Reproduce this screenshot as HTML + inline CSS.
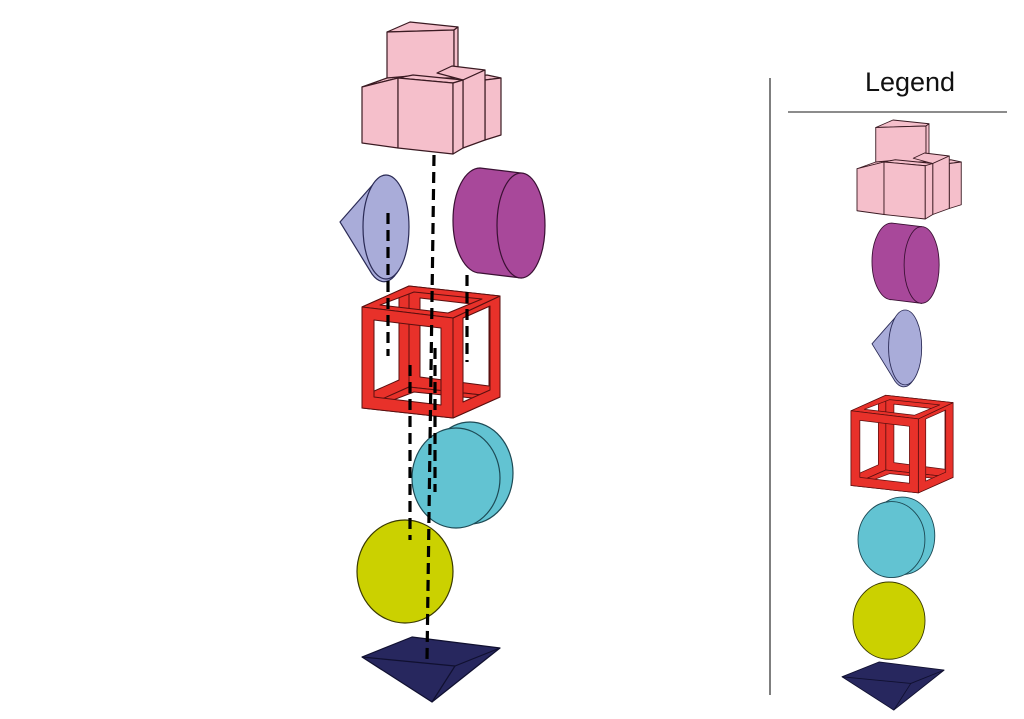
<!DOCTYPE html>
<html><head><meta charset="utf-8"><style>
html,body{margin:0;padding:0;background:#fff;}
svg{display:block;}
</style></head><body>
<svg width="1024" height="719" viewBox="0 0 1024 719" xmlns="http://www.w3.org/2000/svg">
<defs>
<g id="pink" fill="#f5bfcb" stroke="#3a1a22" stroke-width="1.2" stroke-linejoin="round">
  <polygon points="387,32 410,22 458,27 454,30"/>
  <polygon points="387,32 454,30 454,78 387,78"/>
  <polygon points="454,30 458,27 458,74 454,78"/>
  <polygon points="472,77 487,75 501,78 485,80"/>
  <polygon points="485,80 501,78 501,135 485,140"/>
  <polygon points="437,73 452,66 485,70 463,80"/>
  <polygon points="463,80 485,70 485,140 463,148"/>
  <polygon points="362,87 387,78 410,76 398,78"/>
  <polygon points="362,87 398,78 398,148 362,143"/>
  <polygon points="398,78 413,75 463,80 453,83"/>
  <polygon points="398,78 453,83 453,154 398,148"/>
  <polygon points="453,83 463,80 463,148 453,154"/>
</g>
<g id="purple" fill="#a8489a" stroke="#3a1033" stroke-width="1.2">
  <path d="M480,168 L521,173 L521,278 L480,273 A27,52.5 0 0 1 480,168 Z"/>
  <ellipse cx="521" cy="225.5" rx="24" ry="52.5"/>
</g>
<g id="cone" fill="#a9acd9" stroke="#2a2a55" stroke-width="1.2">
  <path d="M340,222 L376,181 A23,52 0 1 1 372,274 Z"/>
  <ellipse cx="386" cy="227" rx="23" ry="52"/>
</g>
<g id="cube" fill="#e8312a" stroke="#5a0f0f" stroke-width="1" fill-rule="evenodd" stroke-linejoin="round">
  <path d="M409,286 L500,296 L500,397 L409,387 Z M420,298 L489,306 L489,386 L420,377 Z"/>
  <path d="M362,307 L409,286 L409,387 L362,408 Z M372,308 L399,296 L399,380 L372,392 Z"/>
  <path d="M362,408 L409,387 L500,397 L453,418 Z M380,405 L414,392 L482,399 L449,412 Z"/>
  <path d="M453,318 L500,296 L500,397 L453,418 Z M463,318 L490,306 L490,390 L463,402 Z"/>
  <path d="M362,307 L409,286 L500,296 L453,318 Z M380,305 L414,292 L482,299 L448,313 Z"/>
  <path d="M362,307 L453,318 L453,418 L362,408 Z M374,320 L441,328 L441,405 L374,397 Z"/>
</g>
<g id="cyan" fill="#62c3d2" stroke="#1d4a55" stroke-width="1.2">
  <ellipse cx="470" cy="473" rx="43" ry="51"/>
  <ellipse cx="456" cy="478" rx="44" ry="50"/>
</g>
<g id="yellow" fill="#cbd100" stroke="#3a3a00" stroke-width="1.2">
  <ellipse cx="405" cy="571.5" rx="48" ry="51.5"/>
</g>
<g id="navy" fill="#27275e" stroke="#101030" stroke-width="1.2" stroke-linejoin="round">
  <polygon points="362,657 412,637 500,648 432,702"/>
  <polyline fill="none" points="362,657 455,666 500,648"/>
  <line x1="455" y1="666" x2="432" y2="702"/>
</g>
</defs>

<use href="#pink"/>
<use href="#cone"/>
<use href="#purple"/>
<use href="#cube"/>
<use href="#cyan"/>
<use href="#yellow"/>
<use href="#navy"/>

<g stroke="#000" stroke-width="3.2" stroke-dasharray="11 6" fill="none">
  <line x1="434" y1="155" x2="427" y2="660"/>
  <line x1="388" y1="213" x2="388" y2="356"/>
  <line x1="467" y1="275" x2="467" y2="362"/>
  <line x1="410" y1="365" x2="410" y2="540"/>
  <line x1="435" y1="348" x2="435" y2="492"/>
</g>

<line x1="770" y1="78" x2="770" y2="695" stroke="#555" stroke-width="1.5"/>
<text x="910" y="91" text-anchor="middle" font-family="Liberation Sans, sans-serif" font-size="27" fill="#111">Legend</text>
<line x1="788" y1="112" x2="1007" y2="112" stroke="#666" stroke-width="1.5"/>

<use href="#pink" transform="translate(585.5,103.5) scale(0.75)"/>
<use href="#purple" transform="translate(541.3,100.4) scale(0.73)"/>
<use href="#cone" transform="translate(627.2,184) scale(0.72)"/>
<use href="#cube" transform="translate(583.1,183.6) scale(0.74)"/>
<use href="#cyan" transform="translate(544.9,176.3) scale(0.76)"/>
<use href="#yellow" transform="translate(585.25,192) scale(0.75)"/>
<use href="#navy" transform="translate(574.1,190.6) scale(0.74)"/>
</svg>
</body></html>
